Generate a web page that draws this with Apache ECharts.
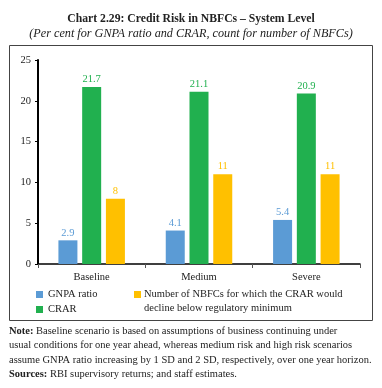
<!DOCTYPE html>
<html><head><meta charset="utf-8">
<script src="https://cdn.jsdelivr.net/npm/echarts@6/dist/echarts.min.js"></script>
<style>html,body{margin:0;padding:0;background:#fff}#c{width:382px;height:388px}</style>
</head><body><div id="c"></div>
<script>
const categories = ['Baseline', 'Medium', 'Severe'];
const gnpaRatio = [2.9, 4.1, 5.4];
const crar = [21.7, 21.1, 20.9];
const nbfcCount = [8, 11, 11];
const yTicks = [0, 5, 10, 15, 20, 25];

const FONT = '"Liberation Serif", "DejaVu Serif", serif';
const BLUE = '#5B9BD5', GREEN = '#21B04F', YELLOW = '#FFC000';
const NBFC_NAME = 'Number of NBFCs for which the CRAR would\ndecline below regulatory minimum';
const chart = echarts.init(document.getElementById('c'), null, {renderer: 'canvas'});

function lbl(color) {
  return {show: true, position: 'top', distance: 2, color: color, fontFamily: FONT, fontSize: 10.5};
}

chart.setOption({
  animation: false,
  title: [{
    text: 'Chart 2.29: Credit Risk in NBFCs – System Level',
    left: 'center', top: 8,
    textStyle: {fontFamily: FONT, fontSize: 11.7, fontWeight: 'bold', color: '#222'}
  }, {
    text: '(Per cent for GNPA ratio and CRAR, count for number of NBFCs)',
    left: 'center', top: 23,
    textStyle: {fontFamily: FONT, fontSize: 12.2, fontStyle: 'italic', fontWeight: 'normal', color: '#222'}
  }],
  grid: {left: 38, top: 60, width: 322, height: 204, containLabel: false},
  legend: [{
    data: ['GNPA ratio', 'CRAR'],
    orient: 'vertical', left: 36, top: 289, itemWidth: 7, itemHeight: 7, itemGap: 4, padding: 0,
    icon: 'rect',
    textStyle: {fontFamily: FONT, fontSize: 10.5, color: '#222'}
  }, {
    data: [NBFC_NAME],
    orient: 'vertical', left: 134, top: 289, itemWidth: 7, itemHeight: 7, padding: 0,
    icon: 'rect',
    formatter: function (n) { return n.split('\n')[0]; },
    textStyle: {fontFamily: FONT, fontSize: 10.5, color: '#222', padding: [0, 0, 0, -2]}
  }],
  xAxis: {
    type: 'category', data: categories,
    axisLine: {lineStyle: {color: '#000', width: 1.5}},
    axisTick: {show: true, alignWithLabel: false, length: 4, lineStyle: {color: '#555'}},
    axisLabel: {fontFamily: FONT, fontSize: 10.5, color: '#222', margin: 8}
  },
  yAxis: {
    type: 'value', min: 0, max: 25, interval: 5,
    axisLine: {show: true, lineStyle: {color: '#000', width: 2}},
    axisTick: {show: true, length: 3, lineStyle: {color: '#000'}},
    splitLine: {show: false},
    axisLabel: {fontFamily: FONT, fontSize: 10.5, color: '#222', margin: 7}
  },
  series: [{
    name: 'GNPA ratio', type: 'bar', data: gnpaRatio, barWidth: 19, barGap: '25%',
    itemStyle: {color: BLUE}, label: lbl(BLUE)
  }, {
    name: 'CRAR', type: 'bar', data: crar, barWidth: 19, barGap: '25%',
    itemStyle: {color: GREEN}, label: lbl(GREEN)
  }, {
    name: NBFC_NAME,
    type: 'bar', data: nbfcCount, barWidth: 19, barGap: '25%',
    itemStyle: {color: YELLOW}, label: lbl(YELLOW)
  }],
  graphic: [{
    type: 'rect', shape: {x: 9.5, y: 45.5, width: 363, height: 275},
    style: {fill: 'none', stroke: '#444', lineWidth: 1}
  }, {
    type: 'text', left: 144, top: 303,
    style: {text: NBFC_NAME.split('\n')[1], fontFamily: FONT, fontSize: 10.5, fill: '#222'}
  }, {
    type: 'text', left: 9, top: 324,
    style: {
      text: '{b|Note:} Baseline scenario is based on assumptions of business continuing under\nusual conditions for one year ahead, whereas medium risk and high risk scenarios\nassume GNPA ratio increasing by 1 SD and 2 SD, respectively, over one year horizon.\n{b|Sources:} RBI supervisory returns; and staff estimates.',
      fontFamily: FONT, fontSize: 10.5, fill: '#222', lineHeight: 14.4,
      rich: {b: {fontWeight: 'bold', fontFamily: FONT, fontSize: 10.5, fill: '#222', lineHeight: 14.4}}
    }
  }]
});
</script></body></html>
